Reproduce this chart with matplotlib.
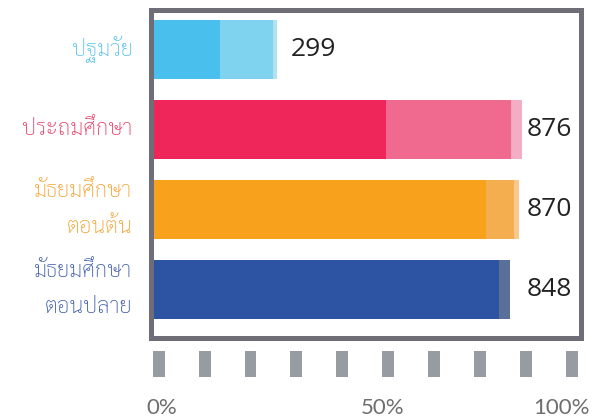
import matplotlib
matplotlib.use("Agg")
import matplotlib.pyplot as plt

# data
levels = ["ปฐมวัย", "ประถมศึกษา", "มัธยมศึกษา\nตอนต้น", "มัธยมศึกษา\nตอนปลาย"]
totals = [299, 876, 870, 848]
seg1 = [165, 555, 791, 822]
seg2 = [123, 295, 66, 26]
seg3 = [11, 26, 13, 0]
pct_labels = ["0%", "50%", "100%"]

dark = ["#48bfed", "#ef2659", "#f7a11d", "#2d54a3"]
mid = ["#7fd3ee", "#f0698e", "#f5ae4f", "#5a7099"]
light = ["#b0e2f0", "#f3adc5", "#f8c98a", "#8a9bbb"]
label_col = ["#55c2ec", "#e93a64", "#f4a12e", "#3a5aa8"]

thai = "Sarabun"
num_font = "Open Sans"

fig = plt.figure(figsize=(6.04, 4.19), dpi=100)
ax = fig.add_axes([0.2492, 0.1933, 0.7119, 0.784])

ypos = list(range(len(levels)))
h = 0.7375
ax.barh(ypos, seg1, height=h, color=dark, zorder=1)
ax.barh(ypos, seg2, left=seg1, height=h, color=mid, zorder=1)
left3 = [a + b for a, b in zip(seg1, seg2)]
ax.barh(ypos, seg3, left=left3, height=h, color=light, zorder=1)

ax.set_xlim(0, 1015)
ax.set_ylim(3.606, -0.5)
ax.set_xticks([])
ax.set_yticks([])
for s in ax.spines.values():
    s.set_color("#6e6d78")
    s.set_linewidth(3.6)

# value labels
for y, t in zip(ypos, totals):
    if t > 600:
        ax.text(0.98, y, str(t), transform=ax.get_yaxis_transform(),
                ha="right", va="center", fontsize=19, family=num_font, color="#222222")
    else:
        ax.annotate(str(t), (t, y), xytext=(9.5, 0), textcoords="offset points",
                    ha="left", va="center", fontsize=19, family=num_font, color="#222222")

# category labels
for y, name, c in zip(ypos, levels, label_col):
    ax.annotate(name, (0, y), xycoords=("axes fraction", "data"), xytext=(-13, 0),
                textcoords="offset points", ha="right", va="center", multialignment="right",
                fontsize=15.8, family=thai, weight="light", color=c, linespacing=1.9)

# decorative tick marks below
ax2 = fig.add_axes([135.8 / 604, 42 / 419, 458.8 / 604, 26 / 419])
ax2.bar(range(10), [1] * 10, width=0.26, color="#979ca3")
ax2.set_xlim(-0.5, 9.5)
ax2.set_ylim(0, 1)
ax2.set_yticks([])
ax2.set_xticks([0.07, 4.87, 8.77], pct_labels)
ax2.tick_params(axis="x", length=0, pad=15, labelsize=16, labelcolor="#6e6e6e")
for lbl in ax2.get_xticklabels():
    lbl.set_family("Lato")
for s in ax2.spines.values():
    s.set_visible(False)
ax2.patch.set_alpha(0)

fig.savefig("out.png")
